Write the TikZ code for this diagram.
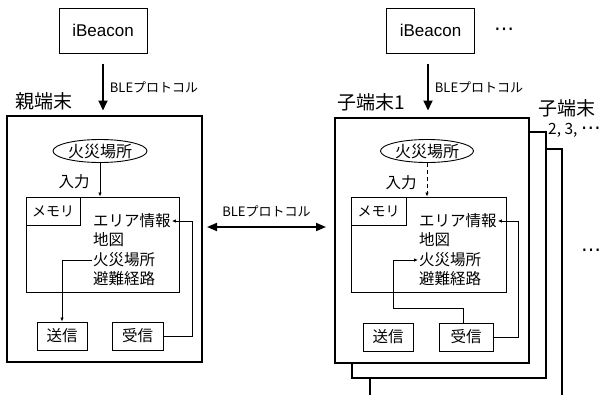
\documentclass[tikz,border=0pt]{standalone}
\usepackage{fontspec}
\setmainfont{Noto Sans CJK JP}
\newfontfamily\latinfont{Liberation Sans}
\newfontfamily\symfont{DejaVu Sans}
\usetikzlibrary{arrows.meta,positioning,shapes.geometric}

\begin{document}
\begin{tikzpicture}[x=1pt, y=-1pt,
  box/.style={draw, line width=0.9pt, inner sep=0pt, minimum height=28pt, font=\fontsize{15.5}{15.5}\selectfont},
  frame/.style={draw, line width=1.7pt, fill=white, inner sep=0pt},
  beacon/.style={draw, line width=1pt, inner sep=0pt, minimum width=88pt, minimum height=45pt, font=\latinfont\fontsize{17}{17}\selectfont},
  cloud/.style={draw, line width=0.9pt, ellipse, inner sep=0pt, minimum height=23pt, font=\fontsize{16}{16}\selectfont},
  item/.style={inner sep=1pt, font=\fontsize{15.5}{15.5}\selectfont},
  lbl/.style={inner sep=0pt, font=\fontsize{19}{19}\selectfont},
  small/.style={inner sep=0pt, font=\fontsize{13}{13}\selectfont},
  dots/.style={inner sep=0pt, font=\symfont\fontsize{20}{20}\selectfont},
  bigarr/.style={-{Triangle[length=10pt,width=9pt]}, line width=1.8pt},
  sarr/.style={-{Latex[length=4pt,width=3.5pt]}, line width=0.8pt}
]
\useasboundingbox (0,0) rectangle (608,394);

% parent terminal
\node[beacon] (beaconL) at (103,30.5) {iBeacon};
\node[frame, minimum width=195pt, minimum height=246pt] (parent) at (104.5,239) {};
\node[lbl] (parentlbl) at (44,101) {親端末};
\draw[bigarr] ([yshift=-10pt]beaconL.south) -- ++(0,47) node[small, midway, right=6pt] {BLEプロトコル};

\node[cloud, minimum width=94pt] (fireL) at (100,151) {火災場所};
\node[item] (inputL) at (74,182) {入力};
\node[draw, line width=0.9pt, minimum width=153pt, minimum height=95pt, inner sep=0pt] (memL) at (102.5,244.5) {};
\node[draw, line width=0.9pt, minimum width=54pt, minimum height=28pt, inner sep=0pt, anchor=north west, font=\fontsize{14}{14}\selectfont] (memlblL) at (memL.north west) {メモリ};
\node[item, anchor=west] (areaL) at (92,221) {エリア情報};
\node[item, anchor=west] (mapL) at (92,240) {地図};
\node[item, anchor=west] (fireposL) at (92,260) {火災場所};
\node[item, anchor=west] (routeL) at (92,279) {避難経路};
\node[box, minimum width=50pt] (sendL) at (62,336) {送信};
\node[box, minimum width=51pt] (recvL) at (137.5,336) {受信};

\draw[sarr] (fireL) -- (fireL |- memL.north);
\draw[sarr] (fireposL.west) -| (sendL.north);
\draw[sarr] (recvL.east) -- ++(29,0) |- (areaL.east);

% link between terminals
\coordinate (linkL) at (207,227);
\coordinate (linkR) at (326,227);
\draw[{Triangle[length=10pt,width=8pt]}-{Triangle[length=10pt,width=8pt]}, line width=1.8pt] (linkL) -- (linkR) node[small, midway, above=9pt] {BLEプロトコル};

% child terminals
\node[beacon] (beaconR) at (430.5,30.5) {iBeacon};
\node[dots] (dotsT) at (504,32) {⋯};
\draw[line width=1.7pt] (370,400) |- (562,149) -- (562,400);
\node[frame, minimum width=194pt, minimum height=246pt] (child2) at (449,255) {};
\node[frame, minimum width=194pt, minimum height=245pt] (child1) at (432,240.5) {};
\node[lbl] (child1lbl) at (371,102) {子端末1};
\node[lbl] (child2lbl) at (567,108) {子端末};
\node[item, anchor=west, inner sep=0pt] (child2num) at (548,130) {2, 3, {\symfont\fontsize{20}{20}\selectfont ⋯}};
\node[dots] (dotsR) at (591,253) {⋯};
\draw[bigarr] ([yshift=-10pt]beaconR.south) ++(-2.5,0) -- ++(0,47) node[small, midway, right=6pt] {BLEプロトコル};

\node[cloud, minimum width=93pt] (fireR) at (427,151) {火災場所};
\node[item] (inputR) at (401,183) {入力};
\node[draw, line width=0.9pt, minimum width=155pt, minimum height=95pt, inner sep=0pt] (memR) at (428.5,244.5) {};
\node[draw, line width=0.9pt, minimum width=55pt, minimum height=28pt, inner sep=0pt, anchor=north west, font=\fontsize{14}{14}\selectfont] (memlblR) at (memR.north west) {メモリ};
\node[item, anchor=west] (areaR) at (418,221) {エリア情報};
\node[item, anchor=west] (mapR) at (418,240) {地図};
\node[item, anchor=west] (fireposR) at (418,260) {火災場所};
\node[item, anchor=west] (routeR) at (418,279) {避難経路};
\node[box, minimum width=50pt] (sendR) at (388,337) {送信};
\node[box, minimum width=54pt] (recvR) at (466,337) {受信};

\draw[sarr, dashed, dash pattern=on 4pt off 3pt] (fireR) -- (fireR |- memR.north);
\draw[sarr] (recvR.east) -- ++(25,0) |- (areaR.east);
\draw[sarr] ([xshift=-3pt]recvR.north) -- ++(0,-14) -| ([xshift=-25pt]fireposR.west) -- (fireposR.west);
\end{tikzpicture}
\end{document}
